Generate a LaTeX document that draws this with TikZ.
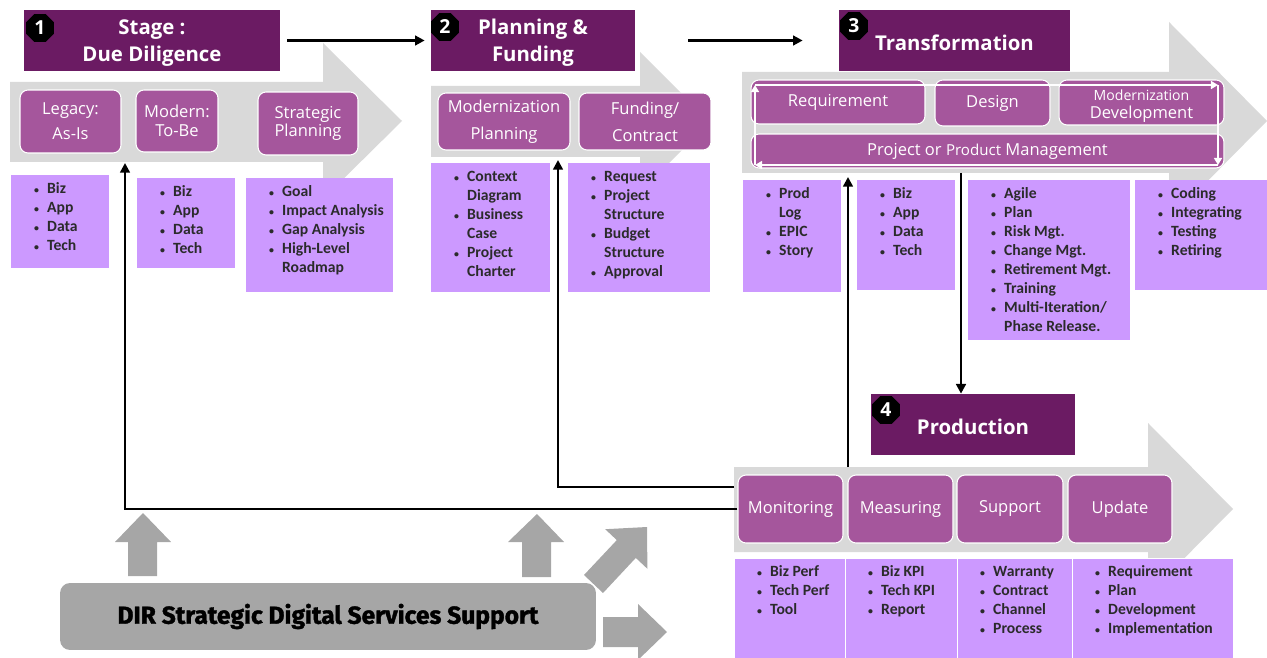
\documentclass[tikz,border=0pt]{standalone}
\usepackage{fontspec}
\setmainfont{Open Sans}
\newfontfamily\listfont{Carlito}
\newfontfamily\dirfont{Fira Sans}[BoldFeatures={FakeBold=1.5}]
\usetikzlibrary{shapes.geometric,arrows.meta}

\definecolor{stagepurple}{HTML}{6B1B63}
\definecolor{steppurple}{HTML}{A5569C}
\definecolor{lilac}{HTML}{CC99FF}
\definecolor{bandgray}{HTML}{D9D9D9}
\definecolor{dirgray}{HTML}{A6A6A6}
\definecolor{listtext}{HTML}{2B2B2B}

% bullet list in a box of fixed size: width, height, rows
\newcommand{\bitems}[3]{\parbox[c][#2][t]{#1}{\vspace*{3pt}\hspace*{13pt}\begin{tabular}[t]{@{}l@{\hspace{4.6pt}}l@{}}#3\end{tabular}}}
\newcommand{\bl}{\raisebox{0.4pt}{\fontsize{5.6}{6}\selectfont\textbullet} &}

\begin{document}
\begin{tikzpicture}[x=0.02cm, y=-0.02cm,
	stage/.style = {fill=stagepurple, text=white, font=\bfseries\fontsize{11.6}{15.3}\selectfont, align=center, minimum height=1.22cm, inner sep=0pt},
	badge/.style = {regular polygon, regular polygon sides=8, fill=black, text=white, font=\bfseries\fontsize{11}{11}\selectfont, minimum size=0.6cm, inner sep=0pt},
	phase/.style = {fill=steppurple, draw=white, line width=0.6pt, rounded corners=0.16cm, text=white, font=\fontsize{9.4}{10.5}\selectfont, align=center, inner sep=0pt},
	items/.style = {fill=lilac, inner sep=0pt, anchor=north west, text=listtext, font=\listfont\bfseries\fontsize{8.9}{10.8}\selectfont},
	conn/.style = {line width=1.4pt, -{Triangle[length=5.5pt,width=5.5pt]}},
	cycle/.style = {white, line width=1pt, -{Triangle[length=4pt,width=4.5pt]}}]
	\useasboundingbox (0,0) rectangle (1267,658);

	% grey stage bands
	\fill[bandgray] (10,82) -- (323,82) -- (323,43) -- (402,121) -- (323,199) -- (323,162) -- (10,162) -- cycle;
	\fill[bandgray] (431,86) -- (640,86) -- (640,52) -- (710,122) -- (640,192) -- (640,157) -- (431,157) -- cycle;
	\fill[bandgray] (742,72) -- (1169,72) -- (1169,22) -- (1267,121) -- (1169,220) -- (1169,173) -- (742,173) -- cycle;
	\fill[bandgray] (734,467) -- (1148,467) -- (1148,423) -- (1233,509) -- (1148,595) -- (1148,552) -- (734,552) -- cycle;

	% stage titles
	\node[stage, minimum width=5.12cm, text height=26.5pt, text depth=2.8pt] (t1) at (152,40.5) {Stage :\\Due Diligence};
	\node[stage, minimum width=4.08cm, text height=26.5pt, text depth=2.8pt] (t2) at (533,40.5) {Planning \&\\Funding};
	\node[stage, minimum width=4.62cm, text height=11.4pt, text depth=0pt] (t3) at (954.5,40.5) {Transformation};
	\node[stage, minimum width=4.08cm, text height=11.8pt, text depth=0pt] (t4) at (973,424.5) {Production};
	\node[badge] (n1) at (40,28) {1};
	\node[badge] (n2) at (445,27) {2};
	\node[badge] (n3) at (854,26) {3};
	\node[badge] (n4) at (886,410) {4};

	% steps
	\node[phase, minimum width=2.02cm, minimum height=1.26cm, font=\fontsize{9.4}{14.2}\selectfont] (leg) at (70.5,121.5) {Legacy:\\As-Is};
	\node[phase, minimum width=1.64cm, minimum height=1.24cm] (mod) at (177,121) {Modern:\\To-Be};
	\node[phase, minimum width=2.0cm, minimum height=1.26cm] (strat) at (308,123.5) {Strategic\\Planning};
	\node[phase, minimum width=2.64cm, minimum height=1.14cm, font=\fontsize{9.4}{15.3}\selectfont] (mplan) at (504,121.5) {Modernization\\Planning};
	\node[phase, minimum width=2.64cm, minimum height=1.14cm, font=\fontsize{9.4}{15.3}\selectfont] (fund) at (645,121.5) {Funding/\\Contract};
	\node[phase, minimum width=3.48cm, minimum height=0.88cm] (req) at (838,102) {Requirement};
	\node[phase, minimum width=2.3cm, minimum height=0.92cm] (des) at (992.5,103) {Design};
	\node[phase, minimum width=3.3cm, minimum height=0.9cm, font=\fontsize{9.4}{10.2}\selectfont, text height=20.5pt, text depth=2.5pt] (mdev) at (1141.5,102.5) {{\fontsize{8}{10.2}\selectfont Modernization}\\Development};
	\node[phase, minimum width=9.46cm, minimum height=0.68cm] (pm) at (987.5,151) {Project or {\fontsize{8.6}{10}\selectfont Product} Management};
	\node[phase, minimum width=2.1cm, minimum height=1.36cm] (mon) at (790.5,509) {Monitoring};
	\node[phase, minimum width=2.1cm, minimum height=1.36cm] (meas) at (900.5,509) {Measuring};
	\node[phase, minimum width=2.12cm, minimum height=1.36cm] (sup) at (1010,509) {Support};
	\node[phase, minimum width=2.08cm, minimum height=1.36cm] (upd) at (1120,509) {Update};

	% cycle inside transformation
	\coordinate (lb) at (755,165);
	\coordinate (lt) at (755,85);
	\coordinate (rt) at (1218,85);
	\coordinate (rb) at (1218,165);
	\draw[cycle] (lb) -- (lt);
	\draw[cycle] (lt) -- (rt);
	\draw[cycle] (rt) -- (rb);
	\draw[cycle] (rb) -- (lb);

	% bullet boxes
	\node[items] (b1) at (11,175) {\bitems{1.96cm}{1.86cm}{\bl Biz\\ \bl App\\ \bl Data\\ \bl Tech}};
	\node[items] (b2) at (137,178) {\bitems{1.96cm}{1.8cm}{\bl Biz\\ \bl App\\ \bl Data\\ \bl Tech}};
	\node[items] (b3) at (246,178) {\bitems{2.94cm}{2.28cm}{\bl Goal\\ \bl Impact Analysis\\ \bl Gap Analysis\\ \bl High-Level\\ & Roadmap}};
	\node[items] (b4) at (431,163) {\bitems{2.38cm}{2.58cm}{\bl Context\\ & Diagram\\ \bl Business\\ & Case\\ \bl Project\\ & Charter}};
	\node[items] (b5) at (568,163) {\bitems{2.84cm}{2.58cm}{\bl Request\\ \bl Project\\ & Structure\\ \bl Budget\\ & Structure\\ \bl Approval}};
	\node[items] (b6) at (743,180) {\bitems{1.96cm}{2.24cm}{\bl Prod\\ & Log\\ \bl EPIC\\ \bl Story}};
	\node[items] (b7) at (857,180) {\bitems{1.96cm}{2.2cm}{\bl Biz\\ \bl App\\ \bl Data\\ \bl Tech}};
	\node[items] (b8) at (968,180) {\bitems{3.24cm}{3.2cm}{\bl Agile\\ \bl Plan\\ \bl Risk Mgt.\\ \bl Change Mgt.\\ \bl Retirement Mgt.\\ \bl Training\\ \bl Multi-Iteration/\\ & Phase Release.}};
	\node[items] (b9) at (1135,180) {\bitems{2.64cm}{2.2cm}{\bl Coding\\ \bl Integrating\\ \bl Testing\\ \bl Retiring}};
	\node[items, draw=white] (b10) at (734,558) {\bitems{2.22cm}{2.0cm}{\bl Biz Perf\\ \bl Tech Perf\\ \bl Tool}};
	\node[items, draw=white] (b11) at (845,558) {\bitems{2.24cm}{2.0cm}{\bl Biz KPI\\ \bl Tech KPI\\ \bl Report}};
	\node[items, draw=white] (b12) at (957,558) {\bitems{2.3cm}{2.0cm}{\bl Warranty\\ \bl Contract\\ \bl Channel\\ \bl Process}};
	\node[items, draw=white] (b13) at (1072,558) {\bitems{3.22cm}{2.0cm}{\bl Requirement\\ \bl Plan\\ \bl Development\\ \bl Implementation}};

	% support box and its arrows
	\node[fill=dirgray, rounded corners=0.2cm, minimum width=10.72cm, minimum height=1.34cm, font=\dirfont\bfseries\fontsize{14}{15}\selectfont] (dir) at (328,616.5) {DIR Strategic Digital Services Support};
	\fill[dirgray] (128,576) -- (128,542) -- (115,542) -- (143,513) -- (171,542) -- (157,542) -- (157,576) -- cycle;
	\fill[dirgray] (522,577) -- (522,542) -- (508,542) -- (537,514) -- (564,542) -- (551,542) -- (551,577) -- cycle;
	\fill[dirgray] (584,575) -- (616.8,540.1) -- (605.2,529.2) -- (647,527) -- (647.4,568.8) -- (635.8,557.9) -- (603,593) -- cycle;
	\fill[dirgray] (603,617) -- (638,617) -- (638,604) -- (667,632) -- (638,660) -- (638,647) -- (603,647) -- cycle;

	% flow between stages
	\coordinate (legin) at (125,163);
	\coordinate (planin) at (558,160);
	\coordinate (mon1) at (734,487);
	\coordinate (produp) at (848,467);
	\coordinate (trin) at (848,177);
	\coordinate (trout) at (961,173);
	\draw[conn, shorten <=0.14cm, shorten >=0.12cm] (t1) -- (t2);
	\draw[conn, shorten <=1.06cm, shorten >=0.72cm] (t2) -- (t3);
	\draw[conn] (trout) -- (trout |- t4.north);
	\draw[conn] (produp) -- (trin);
	\draw[conn] (mon1) -| (planin);
	\draw[conn] (mon.west) -| (legin);
\end{tikzpicture}
\end{document}
